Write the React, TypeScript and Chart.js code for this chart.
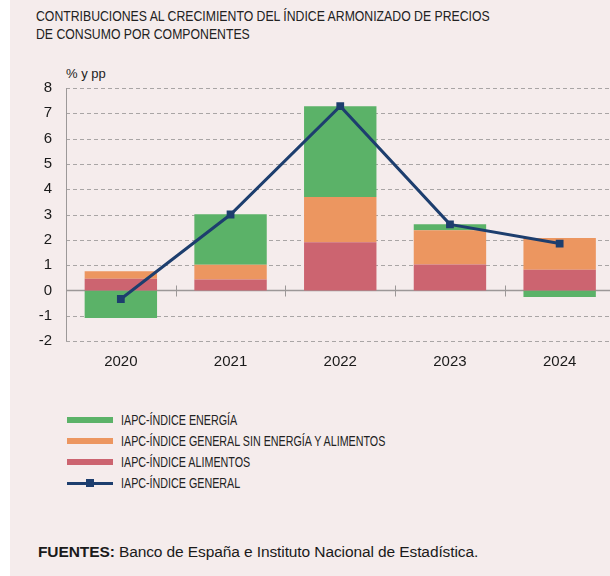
import React, { useEffect, useRef } from "react";
import { Chart, registerables } from "chart.js";

Chart.register(...registerables);

const years = ["2020", "2021", "2022", "2023", "2024"];
const alimentos = [0.46, 0.43, 1.9, 1.02, 0.82];
const subyacente = [0.3, 0.58, 1.79, 1.36, 1.25];
const energia = [-1.09, 2.0, 3.59, 0.23, -0.26];
const general = [-0.34, 3.0, 7.28, 2.61, 1.85];
const yTicks = [-2, -1, 0, 1, 2, 3, 4, 5, 6, 7, 8];

const GREEN = "#5bb268";
const ORANGE = "#ec9660";
const RED = "#cc6470";
const BLUE = "#1d3e6e";
const BG = "#f5ecec";

const gridPlugin = {
  id: "customGrid",
  beforeDatasetsDraw(chart: any) {
    const { ctx, chartArea, scales } = chart;
    const y = scales.y;
    const x = scales.x;
    ctx.save();
    ctx.lineWidth = 1;
    ctx.strokeStyle = "#a9a5a5";
    ctx.setLineDash([4, 3]);
    yTicks.forEach((v) => {
      if (v === 0) return;
      const py = Math.round(y.getPixelForValue(v)) + 0.5;
      ctx.beginPath();
      ctx.moveTo(chartArea.left, py);
      ctx.lineTo(chartArea.right, py);
      ctx.stroke();
    });
    ctx.setLineDash([]);
    ctx.strokeStyle = "#9c9898";
    const lx = Math.round(chartArea.left) + 0.5;
    ctx.beginPath();
    ctx.moveTo(lx, chartArea.top);
    ctx.lineTo(lx, chartArea.bottom);
    ctx.stroke();
    const zy = Math.round(y.getPixelForValue(0)) + 0.5;
    ctx.lineWidth = 1.5;
    ctx.beginPath();
    ctx.moveTo(chartArea.left, zy);
    ctx.lineTo(chartArea.right, zy);
    ctx.stroke();
    ctx.lineWidth = 1;
    for (let i = 0; i < years.length - 1; i++) {
      const px = Math.round((x.getPixelForValue(i) + x.getPixelForValue(i + 1)) / 2) + 0.5;
      ctx.beginPath();
      ctx.moveTo(px, zy - 5);
      ctx.lineTo(px, zy + 6);
      ctx.stroke();
    }
    ctx.restore();
  },
};

function ChartBox() {
  const ref = useRef<HTMLCanvasElement | null>(null);
  useEffect(() => {
    if (!ref.current) return;
    const chart = new Chart(ref.current, {
      type: "bar",
      data: {
        labels: years,
        datasets: [
          { type: "bar", label: "IAPC-ÍNDICE ALIMENTOS", data: alimentos, backgroundColor: RED, stack: "bars", order: 1, barPercentage: 0.66, categoryPercentage: 1 },
          { type: "bar", label: "IAPC-ÍNDICE GENERAL SIN ENERGÍA Y ALIMENTOS", data: subyacente, backgroundColor: ORANGE, stack: "bars", order: 1, barPercentage: 0.66, categoryPercentage: 1 },
          { type: "bar", label: "IAPC-ÍNDICE ENERGÍA", data: energia, backgroundColor: GREEN, stack: "bars", order: 1, barPercentage: 0.66, categoryPercentage: 1 },
          {
            type: "line",
            label: "IAPC-ÍNDICE GENERAL",
            data: general,
            borderColor: BLUE,
            backgroundColor: BLUE,
            borderWidth: 3,
            pointStyle: "rect",
            pointRadius: 5.5,
            pointBackgroundColor: BLUE,
            pointBorderWidth: 0,
            stack: "line",
            order: 0,
            tension: 0,
          } as any,
        ],
      },
      options: {
        animation: false,
        responsive: true,
        maintainAspectRatio: false,
        layout: { padding: { top: 28, right: 4, bottom: 0, left: 0 } },
        plugins: { legend: { display: false }, tooltip: { enabled: false } },
        scales: {
          x: {
            stacked: true,
            grid: { display: false, drawTicks: false },
            border: { display: false },
            ticks: { color: "#1a1a1a", padding: 12, font: { family: "'Liberation Sans', Arial, sans-serif", size: 15 } },
            afterFit: (s: any) => { s.height = 39; },
          },
          y: {
            stacked: true,
            min: -2,
            max: 8,
            grid: { display: false, drawTicks: false },
            border: { display: false },
            ticks: {
              stepSize: 1,
              padding: 14,
              color: "#1a1a1a",
              font: { family: "'Liberation Sans', Arial, sans-serif", size: 15 },
            },
            afterFit: (s: any) => { s.width = 56; },
          },
        },
      },
      plugins: [gridPlugin],
    } as any);
    return () => chart.destroy();
  }, []);
  return <canvas ref={ref} />;
}

const legendItems = [
  { label: "IAPC-ÍNDICE ENERGÍA", color: GREEN, line: false },
  { label: "IAPC-ÍNDICE GENERAL SIN ENERGÍA Y ALIMENTOS", color: ORANGE, line: false },
  { label: "IAPC-ÍNDICE ALIMENTOS", color: RED, line: false },
  { label: "IAPC-ÍNDICE GENERAL", color: BLUE, line: true },
];

export default function App() {
  const font = "'Liberation Sans', Arial, Helvetica, sans-serif";
  return (
    <div style={{ position: "fixed", left: 0, top: 0, width: 610, height: 576, background: "#ffffff", overflow: "hidden" }}>
      <div style={{ position: "absolute", left: 10, top: 0, width: 600, height: 576, background: BG }} />
      <div style={{ position: "absolute", left: 36, top: 7, fontFamily: font, fontSize: 14.5, lineHeight: "18px", color: "#222", whiteSpace: "nowrap", transform: "scaleX(0.845)", transformOrigin: "left top" }}>
        CONTRIBUCIONES AL CRECIMIENTO DEL ÍNDICE ARMONIZADO DE PRECIOS
        <br />
        DE CONSUMO POR COMPONENTES
      </div>
      <div style={{ position: "absolute", left: 66, top: 66, fontFamily: font, fontSize: 13, color: "#222" }}>% y pp</div>
      <div style={{ position: "absolute", left: 10, top: 60, width: 600, height: 320, overflow: "hidden" }}>
        <div style={{ position: "relative", width: 610, height: 320 }}>
          <ChartBox />
        </div>
      </div>
      <div style={{ position: "absolute", left: 67, top: 409 }}>
        {legendItems.map((it) => (
          <div key={it.label} style={{ display: "flex", alignItems: "center", height: 21 }}>
            <div style={{ position: "relative", width: 46, height: 12, marginRight: 8, flex: "none" }}>
              {it.line ? (
                <>
                  <div style={{ position: "absolute", left: 0, top: 5, width: 46, height: 3, background: it.color }} />
                  <div style={{ position: "absolute", left: 19, top: 2.5, width: 8, height: 8, background: it.color }} />
                </>
              ) : (
                <div style={{ position: "absolute", left: 0, top: 3, width: 46, height: 6, background: it.color }} />
              )}
            </div>
            <span style={{ display: "inline-block", transform: "scaleX(0.74)", transformOrigin: "left center", fontFamily: font, fontSize: 14.5, color: "#222", whiteSpace: "nowrap" }}>{it.label}</span>
          </div>
        ))}
      </div>
      <div style={{ position: "absolute", left: 38, top: 543, fontFamily: font, fontSize: 15.5, color: "#1a1a1a", whiteSpace: "nowrap", letterSpacing: -0.1 }}>
        <b>FUENTES:</b> Banco de España e Instituto Nacional de Estadística.
      </div>
    </div>
  );
}
